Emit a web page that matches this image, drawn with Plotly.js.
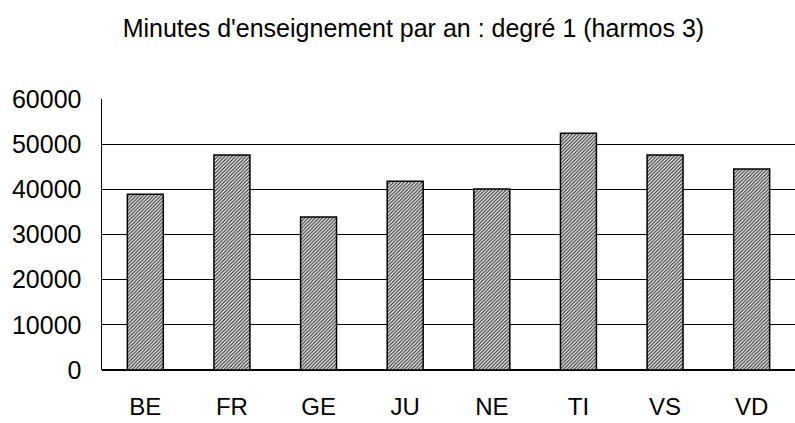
<!DOCTYPE html>
<html>
<head>
<meta charset="utf-8">
<script src="https://cdn.plot.ly/plotly-3.0.1.min.js"></script>
<style>html,body{margin:0;padding:0;background:#fff;}#chart{width:795px;height:423px;}</style>
</head>
<body>
<div id="chart"></div>
<script>
const categories = ["BE", "FR", "GE", "JU", "NE", "TI", "VS", "VD"];
const minutes = [38900, 47600, 33900, 41800, 40100, 52400, 47600, 44500];
const yTicks = [0, 10000, 20000, 30000, 40000, 50000, 60000];
const titleText = "Minutes d'enseignement par an : degré 1 (harmos 3)";

const trace = {
  type: "bar",
  x: categories,
  y: minutes,
  marker: {
    color: "#ffffff",
    line: {color: "#000000", width: 1.5},
    pattern: {shape: "/", size: 2.5, solidity: 0.5, fgcolor: "#333333", bgcolor: "#ffffff"}
  },
  hoverinfo: "skip"
};

const layout = {
  width: 795,
  height: 423,
  margin: {l: 102, r: 0, t: 99, b: 53},
  paper_bgcolor: "#ffffff",
  plot_bgcolor: "#ffffff",
  font: {family: "Liberation Sans, Arial, sans-serif", color: "#000000"},
  title: {text: titleText, font: {size: 25, color: "#000"}, x: 0.52, xanchor: "center", y: 0.934, yanchor: "middle"},
  bargap: 0.585,
  showlegend: false,
  xaxis: {
    type: "category",
    range: [-0.5, 7.5],
    showgrid: false,
    showline: false,
    ticks: "",
    tickfont: {size: 24},
    ticklabelstandoff: 20
  },
  yaxis: {
    range: [0, 60000],
    tickvals: yTicks,
    ticktext: yTicks.map(String),
    showgrid: true,
    gridcolor: "#000000",
    gridwidth: 1.3,
    showline: true,
    linecolor: "#000000",
    linewidth: 1.5,
    ticks: "",
    tickfont: {size: 25},
    ticklabelstandoff: 14,
    zeroline: true,
    zerolinecolor: "#000000",
    zerolinewidth: 1.5
  }
};

Plotly.newPlot("chart", [trace], layout, {displayModeBar: false, staticPlot: true});
</script>
</body>
</html>
